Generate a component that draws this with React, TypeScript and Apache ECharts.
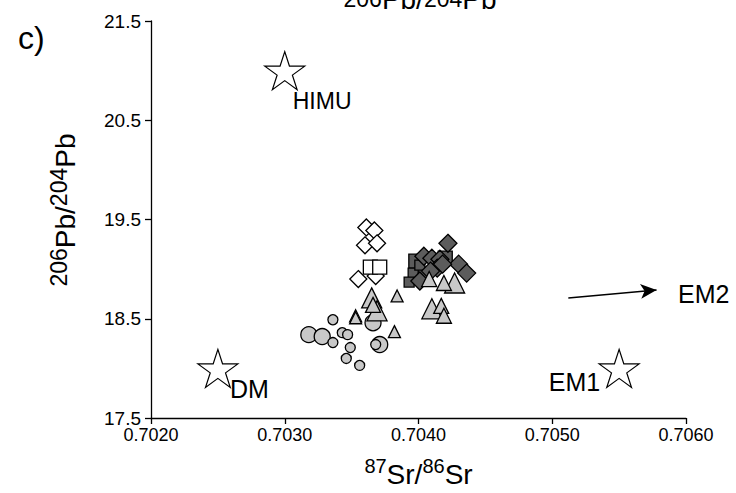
import React, { useEffect, useRef } from 'react';
import * as echarts from 'echarts';

const FONT = '"Liberation Sans", Arial, Helvetica, sans-serif';

// Sample groups: [87Sr/86Sr, 206Pb/204Pb]
const openDiamonds: [number, number][] = [
  [0.70361, 19.42], [0.70367, 19.39], [0.7036, 19.24], [0.70369, 19.26],
  [0.70355, 18.9], [0.70368, 18.93],
];
const openSquares: [number, number][] = [
  [0.70364, 19.02], [0.70371, 19.02],
];
const darkSquaresLarge: [number, number][] = [
  [0.70398, 19.08], [0.7042, 19.11], [0.70405, 18.95],
];
const darkSquaresSmall: [number, number][] = [
  [0.70396, 18.96], [0.70393, 18.87], [0.70401, 19.04],
];
const darkDiamonds: [number, number][] = [
  [0.70422, 19.26], [0.7043, 19.05], [0.70436, 18.96], [0.70404, 19.13],
  [0.7041, 19.11], [0.70416, 19.1], [0.70414, 19.01], [0.70409, 18.98],
  [0.70401, 18.88], [0.70418, 19.05],
];
const trianglesLarge: [number, number][] = [
  [0.70365, 18.71], [0.70369, 18.58], [0.7041, 18.6], [0.70427, 18.86],
];
const trianglesMedium: [number, number][] = [
  [0.70366, 18.64], [0.70417, 18.63], [0.70419, 18.53], [0.70419, 18.86],
  [0.70408, 18.9],
];
const trianglesSmall: [number, number][] = [
  [0.70353, 18.53], [0.70353, 18.51], [0.70384, 18.73], [0.70382, 18.37],
];
const circlesLarge: [number, number][] = [
  [0.70318, 18.34], [0.70328, 18.32], [0.70366, 18.46], [0.70371, 18.24],
];
const circlesSmall: [number, number][] = [
  [0.70336, 18.49], [0.70343, 18.36], [0.70347, 18.34], [0.70336, 18.26],
  [0.70349, 18.21], [0.70346, 18.1], [0.70356, 18.03], [0.70368, 18.24],
];

// Mantle end-members
const endMemberNames = ['HIMU', 'DM', 'EM1'];
const endMemberSr = [0.703, 0.7025, 0.7055];
const endMemberPb = [21.0, 18.0, 18.0];

// EM2 lies off the plot: arrow towards it and its label
const em2ArrowFrom: [number, number] = [0.70512, 18.71];
const em2ArrowTo: [number, number] = [0.70578, 18.79];
const em2LabelAt: [number, number] = [0.70594, 18.75];

// Axis ranges and ticks
const srMin = 0.702;
const srMax = 0.706;
const srStep = 0.001;
const pbMin = 17.5;
const pbMax = 21.5;
const pbStep = 1;

const STAR =
  'path://M50 0 L61.2 34.5 L97.6 34.5 L68.2 55.9 L79.4 90.5 L50 69.1 L20.6 90.5 L31.8 55.9 L2.4 34.5 L38.8 34.5 Z';

const LIGHT = '#c8c8c8';
const DARK = '#5c5c5c';

const labelPlacement: Record<string, { align: string; offset: [number, number]; size: number }> = {
  HIMU: { align: 'left', offset: [8, 30], size: 23 },
  DM: { align: 'left', offset: [12, 21], size: 25 },
  EM1: { align: 'right', offset: [-19, 14], size: 25 },
};

function points(name: string, data: [number, number][], symbol: string, size: number | number[], fill: string) {
  return {
    type: 'scatter',
    name,
    data,
    symbol,
    symbolSize: size,
    itemStyle: { color: fill, borderColor: '#000', borderWidth: 1.3, opacity: 1 },
    emphasis: { disabled: true },
    silent: true,
  };
}

// Isotope ratio text: small mass numbers raised to the top of the line
const isoRich = (big: number, small: number) => ({
  sup: { fontSize: small, fontFamily: FONT, fill: '#000', color: '#000', verticalAlign: 'top', lineHeight: small },
  base: { fontSize: big, fontFamily: FONT, fill: '#000', color: '#000', verticalAlign: 'bottom', lineHeight: big + 4 },
});

export default function App() {
  const ref = useRef<HTMLDivElement>(null);

  useEffect(() => {
    if (!ref.current) return;
    const chart = echarts.init(ref.current, null, { renderer: 'svg' });

    const endMembers = endMemberNames.map((n, i) => ({
      name: n,
      value: [endMemberSr[i], endMemberPb[i]],
      label: {
        show: true,
        formatter: n,
        position: 'inside',
        align: labelPlacement[n].align,
        verticalAlign: 'middle',
        offset: labelPlacement[n].offset,
        fontSize: labelPlacement[n].size,
        fontFamily: FONT,
        color: '#000',
      },
    }));

    chart.setOption({
      animation: false,
      backgroundColor: '#fff',
      grid: { left: 151, right: 50, top: 21, bottom: 69, containLabel: false },
      xAxis: {
        type: 'value',
        min: srMin,
        max: srMax,
        interval: srStep,
        name: '{sup|87}{base|Sr/}{sup|86}{base|Sr}',
        nameLocation: 'middle',
        nameGap: 38,
        nameTextStyle: { rich: isoRich(28, 20) },
        axisLine: { show: true, onZero: false, lineStyle: { color: '#000', width: 1.3 } },
        axisTick: { show: true, inside: false, length: 6, lineStyle: { color: '#000', width: 1.3 } },
        axisLabel: {
          formatter: (v: number) => v.toFixed(4),
          fontSize: 18,
          fontFamily: FONT,
          color: '#000',
          margin: 8,
        },
        splitLine: { show: false },
      },
      yAxis: {
        type: 'value',
        min: pbMin,
        max: pbMax,
        interval: pbStep,
        axisLine: { show: true, onZero: false, lineStyle: { color: '#000', width: 1.3 } },
        axisTick: { show: true, inside: false, length: 6, lineStyle: { color: '#000', width: 1.3 } },
        axisLabel: {
          formatter: (v: number) => v.toFixed(1),
          fontSize: 19,
          fontFamily: FONT,
          color: '#000',
          margin: 10,
        },
        splitLine: { show: false },
      },
      graphic: [
        {
          type: 'text',
          left: 18,
          top: 22,
          style: { text: 'c)', fontSize: 32, fontFamily: FONT, fill: '#000' },
        },
        {
          // y-axis title
          type: 'text',
          x: 63,
          y: 210,
          rotation: Math.PI / 2,
          style: {
            text: '{sup|206}{base|Pb/}{sup|204}{base|Pb}',
            rich: isoRich(28, 23),
            align: 'center',
            verticalAlign: 'middle',
          },
        },
        {
          // heading above the plot
          type: 'text',
          x: 420,
          y: 15,
          style: {
            text: '{sup|206}{base|Pb/}{sup|204}{base|Pb}',
            rich: {
              sup: { fontSize: 23, fontFamily: FONT, fill: '#000', verticalAlign: 'middle', lineHeight: 32 },
              base: { fontSize: 28, fontFamily: FONT, fill: '#000', verticalAlign: 'middle', lineHeight: 32 },
            },
            align: 'center',
            verticalAlign: 'bottom',
          },
        },
      ],
      series: [
        points('circlesLarge', circlesLarge, 'circle', 16, LIGHT),
        points('circlesSmall', circlesSmall, 'circle', 10, LIGHT),
        points('openDiamonds', openDiamonds, 'diamond', 17, '#fff'),
        points('openSquares', openSquares, 'rect', 14, '#fff'),
        points('darkSquaresLarge', darkSquaresLarge, 'rect', 14, DARK),
        points('darkSquaresSmall', darkSquaresSmall, 'rect', 10, DARK),
        points('darkDiamonds', darkDiamonds, 'diamond', 18, DARK),
        points('trianglesLarge', trianglesLarge, 'triangle', 20, LIGHT),
        points('trianglesMedium', trianglesMedium, 'triangle', 15, LIGHT),
        points('trianglesSmall', trianglesSmall, 'triangle', 12, LIGHT),
        {
          type: 'scatter',
          name: 'endMembers',
          data: endMembers,
          symbol: STAR,
          symbolSize: [40, 38],
          itemStyle: { color: '#fff', borderColor: '#000', borderWidth: 1.2, opacity: 1 },
          emphasis: { disabled: true },
          silent: true,
          z: 3,
        },
        {
          type: 'scatter',
          name: 'EM2',
          data: [
            {
              value: em2LabelAt,
              label: {
                show: true,
                formatter: 'EM2',
                position: 'inside',
                align: 'left',
                verticalAlign: 'middle',
                fontSize: 25,
                fontFamily: FONT,
                color: '#000',
              },
            },
          ],
          symbol: 'circle',
          symbolSize: 1,
          itemStyle: { color: '#fff', borderWidth: 0, opacity: 1 },
          emphasis: { disabled: true },
          silent: true,
          markLine: {
            silent: true,
            animation: false,
            symbol: ['none', 'arrow'],
            symbolSize: [11, 16],
            label: { show: false },
            lineStyle: { color: '#000', width: 1.5, type: 'solid' },
            emphasis: { disabled: true },
            data: [[{ coord: em2ArrowFrom }, { coord: em2ArrowTo }]],
          },
        },
      ],
    });

    return () => chart.dispose();
  }, []);

  return (
    <div
      ref={ref}
      style={{ position: 'fixed', left: 0, top: 0, width: 736, height: 493, background: '#fff' }}
    />
  );
}
